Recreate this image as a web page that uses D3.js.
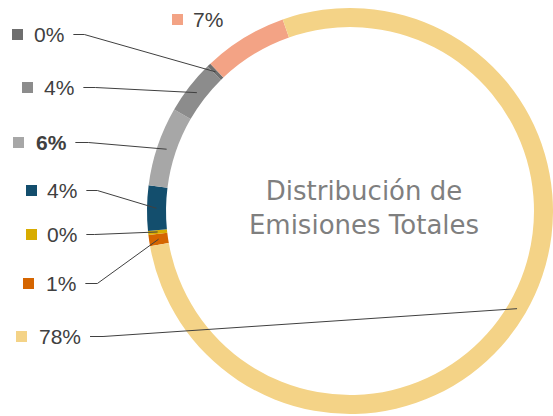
<!DOCTYPE html>
<html>
<head>
<meta charset="utf-8">
<script src="https://cdn.jsdelivr.net/npm/d3@7"></script>
<style>
  html, body { margin: 0; padding: 0; background: #ffffff; }
  svg { display: block; }
  text { font-family: "Liberation Sans", Arial, sans-serif; }
</style>
</head>
<body>
<svg id="chart" width="553" height="416"></svg>
<script>
// Emission shares, listed clockwise from the start of the first slice
const categories = ["Categoría 1", "Categoría 2", "Categoría 3", "Categoría 4",
                    "Categoría 5", "Categoría 6", "Categoría 7", "Categoría 8"];
const shares = [0.9, 0.3, 3.6, 6.3, 4.3, 0.3, 6.7, 77.6];
const colors = ["#D56500", "#D8AC00", "#134E6D", "#A7A7A7",
                "#8C8C8C", "#6E6E6E", "#F3A385", "#F4D387"];
const boldLabel = [false, false, false, true, false, false, false, false];
const titleLines = ["Distribución de", "Emisiones Totales"];

// Label layout: legend square position and leader line behaviour per slice
const labelLayout = [
  { mx: 23, my: 278, tx: 46, leader: true,  bend: 12 },
  { mx: 26, my: 229, tx: 47, leader: true,  bend: 8 },
  { mx: 26, my: 185, tx: 47, leader: true,  bend: 11 },
  { mx: 13, my: 137, tx: 36, leader: true,  bend: 13 },
  { mx: 22, my: 82,  tx: 44, leader: true,  bend: 12 },
  { mx: 12, my: 29,  tx: 34, leader: true,  bend: 11 },
  { mx: 172, my: 14, tx: 193, leader: false, bend: 0 },
  { mx: 16, my: 331, tx: 39, leader: true,  bend: 13 }
];

const svg = d3.select("#chart");
const cx = 350, cy = 211;
const innerR = 184, outerR = 203;
const markSize = 11;

const total = d3.sum(shares);
const startDeg = 260;
const pie = d3.pie()
  .sort(null)
  .value(d => d)
  .startAngle(startDeg * Math.PI / 180)
  .endAngle(startDeg * Math.PI / 180 + 2 * Math.PI);
const arcs = pie(shares);

const arc = d3.arc().innerRadius(innerR).outerRadius(outerR);
const fmt = d3.format(".0%");

const ring = svg.append("g").attr("transform", `translate(${cx},${cy})`);
ring.selectAll("path")
  .data(arcs)
  .join("path")
  .attr("d", arc)
  .attr("fill", (d, i) => colors[i]);

// Centre title
const title = svg.append("text")
  .attr("text-anchor", "middle")
  .attr("fill", "#7F7F7F")
  .style("font-family", "'DejaVu Sans', sans-serif")
  .style("font-size", "26px");
title.selectAll("tspan")
  .data(titleLines)
  .join("tspan")
  .attr("x", 364)
  .attr("y", (d, i) => 200 + i * 34)
  .text(d => d);

// Data labels with legend squares and leader lines
const labels = svg.append("g");
arcs.forEach((a, i) => {
  const L = labelLayout[i];
  labels.append("rect")
    .attr("x", L.mx).attr("y", L.my)
    .attr("width", markSize).attr("height", markSize)
    .attr("fill", colors[i]);
  const t = labels.append("text")
    .attr("x", L.tx)
    .attr("y", L.my + markSize / 2 + 7.5)
    .attr("fill", "#404040")
    .style("font-size", "21px")
    .style("font-weight", boldLabel[i] ? "bold" : "normal")
    .text(fmt(a.data / total));
  if (L.leader) {
    const w = t.node().getComputedTextLength();
    const x0 = L.tx + w + 9;
    const y0 = L.my + markSize / 2;
    const c = arc.centroid(a);
    labels.append("path")
      .attr("d", d3.line()([[x0, y0], [x0 + L.bend, y0], [cx + c[0], cy + c[1]]]))
      .attr("fill", "none")
      .attr("stroke", "#404040")
      .attr("stroke-width", 1);
  }
});
</script>
</body>
</html>
